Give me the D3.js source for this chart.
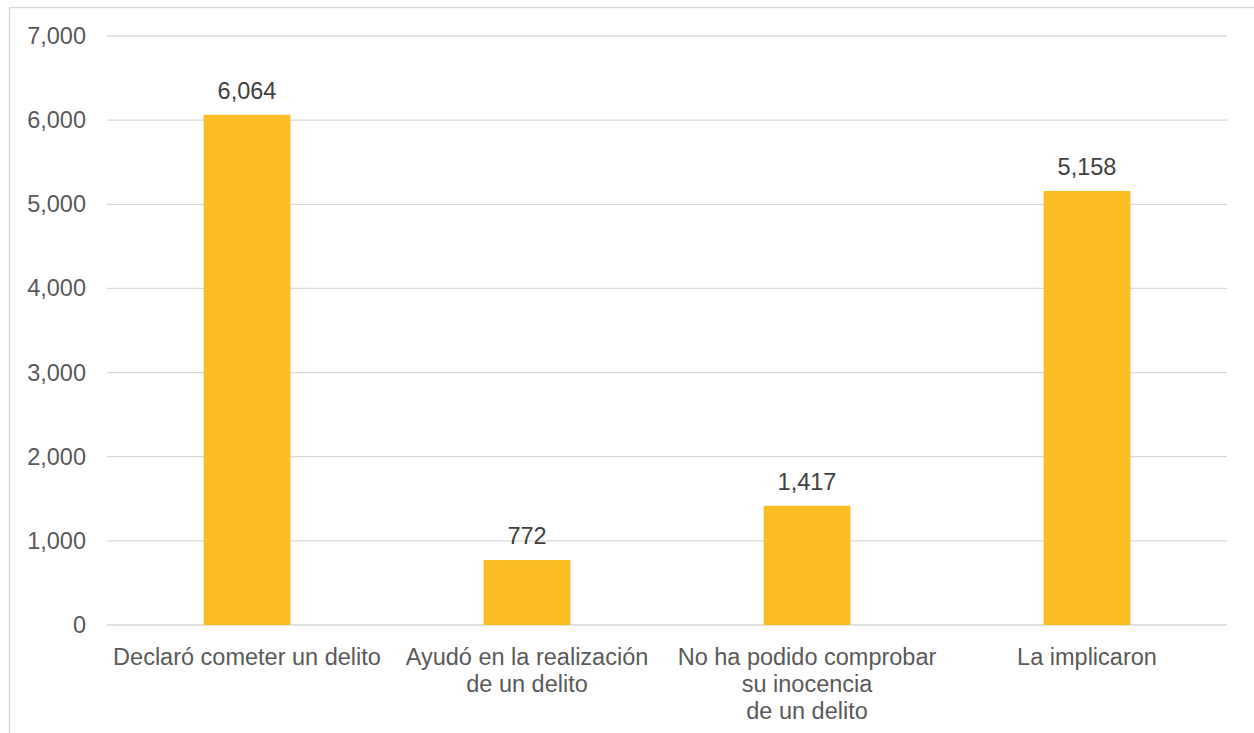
<!DOCTYPE html>
<html>
<head>
<meta charset="utf-8">
<script src="https://cdn.jsdelivr.net/npm/d3@7"></script>
<style>
  body { margin: 0; background: #fff; }
  svg { font-family: "Liberation Sans", Arial, sans-serif; }
</style>
</head>
<body>
<svg width="1254" height="733"></svg>
<script>
// Bar chart: reasons (categories) and counts
const categories = [
  "Declaró cometer un delito",
  "Ayudó en la realización de un delito",
  "No ha podido comprobar su inocencia de un delito",
  "La implicaron"
];
const categoryLines = [
  ["Declaró cometer un delito"],
  ["Ayudó en la realización", "de un delito"],
  ["No ha podido comprobar", "su inocencia", "de un delito"],
  ["La implicaron"]
];
const values = [6064, 772, 1417, 5158];
const yTicks = [0, 1000, 2000, 3000, 4000, 5000, 6000, 7000];

const width = 1254;
const height = 733;
const margin = { top: 36, right: 27, bottom: 108, left: 107 };
const fontSize = 23.5;

const svg = d3.select("svg");

// outer chart border (only left/top are visible in the frame)
svg.append("rect")
  .attr("x", 9.5).attr("y", 7.5)
  .attr("width", 1260).attr("height", 740)
  .attr("fill", "none").attr("stroke", "#d9d9d9").attr("stroke-width", 1.5);

const x = d3.scaleBand()
  .domain(categories)
  .range([margin.left, width - margin.right])
  .paddingInner(0.69)
  .paddingOuter(0.345);

const y = d3.scaleLinear()
  .domain([0, 7000])
  .range([height - margin.bottom, margin.top]);

// gridlines
svg.append("g")
  .selectAll("line")
  .data(yTicks)
  .join("line")
  .attr("x1", margin.left)
  .attr("x2", width - margin.right)
  .attr("y1", d => y(d))
  .attr("y2", d => y(d))
  .attr("stroke", "#d9d9d9")
  .attr("stroke-width", 1.3);

// y axis labels
const yAxis = d3.axisLeft(y)
  .tickValues(yTicks)
  .tickFormat(d3.format(","))
  .tickSize(0)
  .tickPadding(21);

svg.append("g")
  .attr("transform", `translate(${margin.left},0)`)
  .call(yAxis)
  .call(g => g.select(".domain").remove())
  .call(g => g.attr("font-size", fontSize)
    .attr("font-family", "Liberation Sans, Arial, sans-serif"))
  .call(g => g.selectAll("text").attr("fill", "#595959"));

// bars
svg.append("g")
  .selectAll("rect")
  .data(values)
  .join("rect")
  .attr("x", (d, i) => x(categories[i]))
  .attr("y", d => y(d))
  .attr("width", x.bandwidth())
  .attr("height", d => y(0) - y(d))
  .attr("fill", "#fbbc24");

// value labels
svg.append("g")
  .selectAll("text")
  .data(values)
  .join("text")
  .attr("x", (d, i) => x(categories[i]) + x.bandwidth() / 2)
  .attr("y", d => y(d) - 16)
  .attr("text-anchor", "middle")
  .attr("font-size", fontSize)
  .attr("fill", "#404040")
  .text(d => d3.format(",")(d));

// x labels (multi-line)
const xl = svg.append("g")
  .selectAll("text")
  .data(categories)
  .join("text")
  .attr("x", d => x(d) + x.bandwidth() / 2)
  .attr("y", y(0) + 40)
  .attr("text-anchor", "middle")
  .attr("font-size", fontSize)
  .attr("fill", "#595959");

xl.selectAll("tspan")
  .data((d, i) => categoryLines[i])
  .join("tspan")
  .attr("x", function () { return d3.select(this.parentNode).attr("x"); })
  .attr("dy", (d, i) => i === 0 ? 0 : 27)
  .text(d => d);
</script>
</body>
</html>
